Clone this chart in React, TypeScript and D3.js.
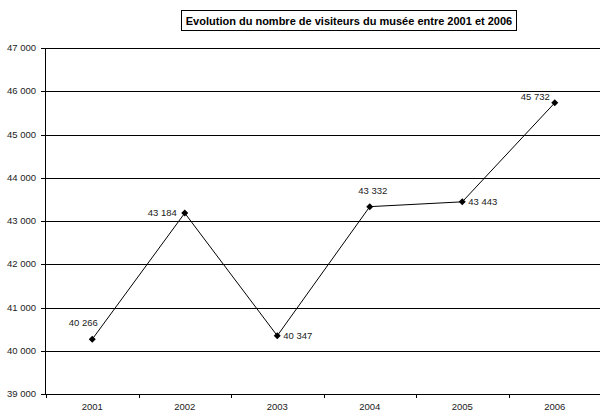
import React from "react";
import * as d3 from "d3";

const years = ["2001", "2002", "2003", "2004", "2005", "2006"];
const visitors = [40266, 43184, 40347, 43332, 43443, 45732];
// where the value label sits relative to its point
const labelPos = ["aboveLeft", "left", "right", "above", "right", "upperLeft"];
const yTicks = [39000, 40000, 41000, 42000, 43000, 44000, 45000, 46000, 47000];
const title = "Evolution du nombre de visiteurs du musée entre 2001 et 2006";

const W = 600;
const H = 411;
const margin = { left: 46, right: -1, top: 48, bottom: 17 };

const fmt = (v: number) => d3.format(",")(v).replace(/,/g, " ");

export default function App() {
  const x = d3
    .scaleBand()
    .domain(years)
    .range([margin.left, W - margin.right])
    .padding(0);
  const y = d3
    .scaleLinear()
    .domain([39000, 47000])
    .range([H - margin.bottom, margin.top]);

  const cx = (i: number) => (x(years[i]) as number) + x.bandwidth() / 2;
  const line = d3
    .line<number>()
    .x((_, i) => cx(i))
    .y((d) => y(d));

  const bottom = y(39000);
  const boundaries = years.map((yr) => x(yr) as number).concat([x.range()[1]]);

  const labelProps = (pos: string, px: number, py: number) => {
    switch (pos) {
      case "left":
        return { x: px - 8, y: py + 3, anchor: "end" };
      case "right":
        return { x: px + 6, y: py + 3, anchor: "start" };
      case "above":
        return { x: px + 3, y: py - 13, anchor: "middle" };
      case "aboveLeft":
        return { x: px - 9, y: py - 13, anchor: "middle" };
      default:
        return { x: px - 5, y: py - 3, anchor: "end" };
    }
  };

  return (
    <svg
      width={W}
      height={H}
      style={{ position: "absolute", left: 0, top: 0, background: "#fff" }}
      fontFamily="'Liberation Sans', Arial, sans-serif"
    >
      {/* title box */}
      <rect x={181.5} y={10.5} width={335} height={20} fill="#fff" stroke="#000" strokeWidth={1} />
      <text x={349} y={24.5} textAnchor="middle" fontSize={11} fontWeight="bold" fill="#000">
        {title}
      </text>

      {/* gridlines + y ticks */}
      {yTicks.map((t) => (
        <g key={t}>
          <line x1={margin.left} x2={W} y1={Math.round(y(t)) + 0.5} y2={Math.round(y(t)) + 0.5} stroke="#000" />
          <line x1={margin.left - 5} x2={margin.left} y1={Math.round(y(t)) + 0.5} y2={Math.round(y(t)) + 0.5} stroke="#000" />
          <text x={36} y={y(t) + 3} textAnchor="end" fontSize={9.5} fill="#222">
            {fmt(t)}
          </text>
        </g>
      ))}

      {/* y axis */}
      <line x1={margin.left - 0.5} x2={margin.left - 0.5} y1={margin.top} y2={bottom} stroke="#000" />

      {/* x ticks + labels */}
      {boundaries.map((b, i) => (
        <line key={i} x1={Math.round(b) + 0.5} x2={Math.round(b) + 0.5} y1={bottom} y2={bottom + 4} stroke="#000" />
      ))}
      {years.map((yr, i) => (
        <text key={yr} x={cx(i)} y={410} textAnchor="middle" fontSize={9.5} fill="#222">
          {yr}
        </text>
      ))}

      {/* series */}
      <path d={line(visitors) || ""} fill="none" stroke="#000" strokeWidth={1} />
      {visitors.map((v, i) => {
        const px = cx(i);
        const py = y(v);
        const lp = labelProps(labelPos[i], px, py);
        return (
          <g key={i}>
            <path d={`M${px},${py - 3.5}L${px + 3.5},${py}L${px},${py + 3.5}L${px - 3.5},${py}Z`} fill="#000" />
            <text x={lp.x} y={lp.y} textAnchor={lp.anchor as any} fontSize={9.5} fill="#222">
              {fmt(v)}
            </text>
          </g>
        );
      })}
    </svg>
  );
}
